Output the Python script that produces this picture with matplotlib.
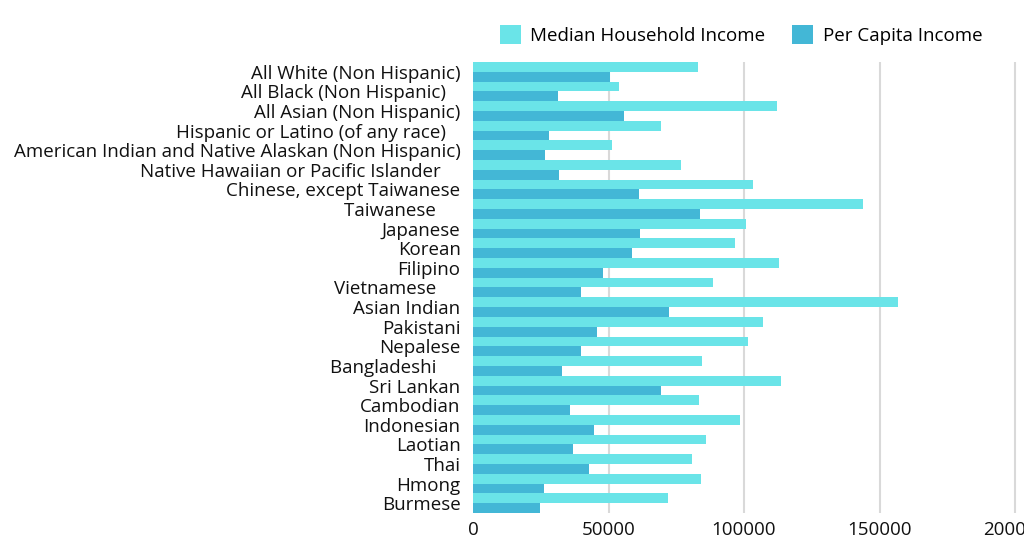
import matplotlib
matplotlib.use("Agg")
import matplotlib.pyplot as plt
import numpy as np
from matplotlib.patches import Patch

categories = [
    "All White (Non Hispanic)",
    "All Black (Non Hispanic)   ",
    "All Asian (Non Hispanic)",
    "Hispanic or Latino (of any race)   ",
    "American Indian and Native Alaskan (Non Hispanic)",
    "Native Hawaiian or Pacific Islander    ",
    "Chinese, except Taiwanese",
    "Taiwanese     ",
    "Japanese",
    "Korean",
    "Filipino",
    "Vietnamese     ",
    "Asian Indian",
    "Pakistani",
    "Nepalese",
    "Bangladeshi     ",
    "Sri Lankan",
    "Cambodian",
    "Indonesian",
    "Laotian",
    "Thai",
    "Hmong",
    "Burmese",
]

median_household = [83000, 53800, 112200, 69300, 51200, 76700, 103300, 143800,
                    100600, 96700, 112900, 88400, 156900, 107000, 101600, 84500,
                    113800, 83400, 98500, 85800, 80800, 84000, 71900]
per_capita = [50600, 31300, 55800, 27900, 26500, 31700, 61200, 83700,
              61600, 58600, 47800, 40000, 72300, 45900, 40000, 32700,
              69300, 35700, 44700, 36900, 42700, 26100, 24600]

series_names = ["Median Household Income", "Per Capita Income"]
tick_values = [0, 50000, 100000, 150000, 200000]

c_med = "#6AE4E8"
c_pc = "#43B7D6"

plt.rcParams['font.family'] = ['Open Sans', 'DejaVu Sans']

W, H = 1024, 542
fig = plt.figure(figsize=(W / 100, H / 100), dpi=100)
ax = fig.add_axes([473 / W, 1 - 513 / H, (1024 - 473) / W, (513 - 62) / H])

y = np.arange(len(categories))
h = 0.5
ax.barh(y - h / 2, median_household, height=h, color=c_med, zorder=2)
ax.barh(y + h / 2, per_capita, height=h, color=c_pc, zorder=2)

fs = 13.5
ax.set_ylim(len(categories) - 0.5, -0.5)
ax.set_xlim(0, 200000 * 551 / 542)
ax.set_yticks(y)
ax.set_yticklabels(categories, fontsize=fs, color="#111111")
ax.set_xticks(tick_values)
ax.set_xticklabels([str(v) for v in tick_values], fontsize=fs, color="#111111")
ax.tick_params(axis="y", length=0, pad=9)
ax.tick_params(axis="x", length=0, pad=6)
ax.xaxis.grid(True, color="#d9d9d9", linewidth=1.5, zorder=0)
ax.set_axisbelow(True)
for s in ax.spines.values():
    s.set_visible(False)

handles = [Patch(facecolor=c_med, edgecolor="none"), Patch(facecolor=c_pc, edgecolor="none")]
fig.legend(handles, series_names, loc="center", bbox_to_anchor=(741 / W, 1 - 35 / H),
           ncol=2, frameon=False, fontsize=fs, handlelength=1.15, handleheight=1.15,
           handletextpad=0.5, columnspacing=1.4)

fig.savefig("out.png", dpi=100)
